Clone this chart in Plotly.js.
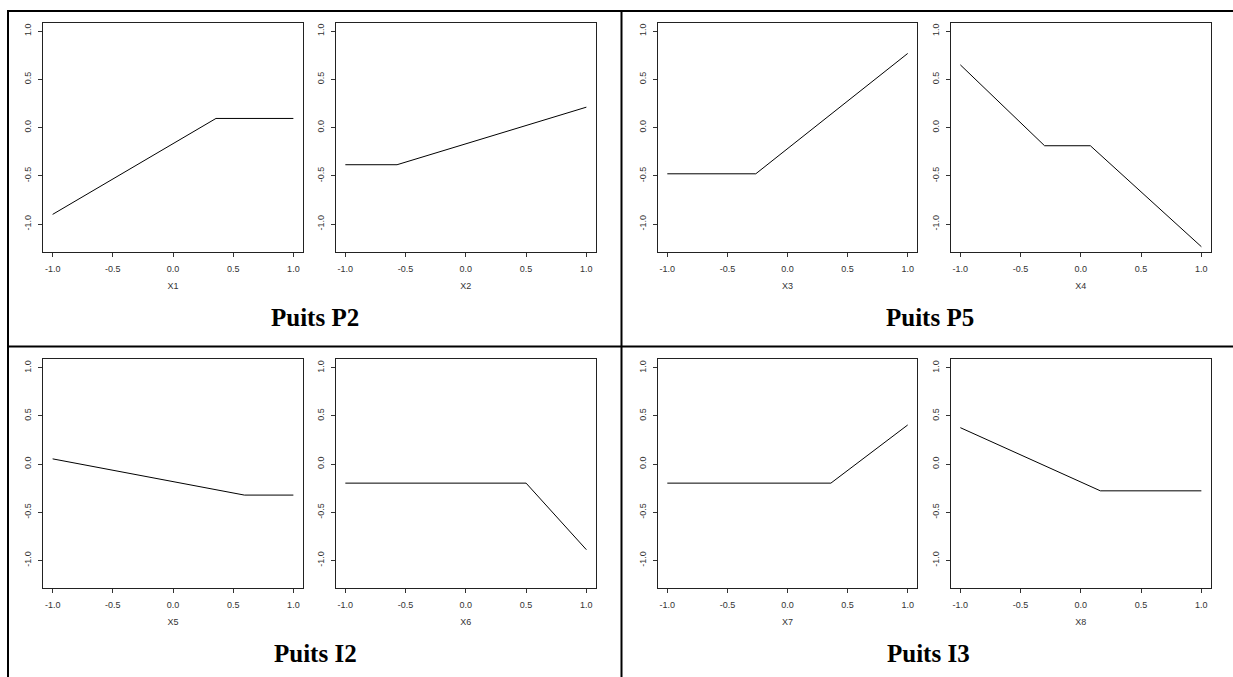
<!DOCTYPE html>
<html>
<head>
<meta charset="utf-8">
<script src="https://cdn.plot.ly/plotly-3.0.1.min.js"></script>
<style>html,body{margin:0;padding:0;background:#fff;}#chart{width:1233px;height:677px;}</style>
</head>
<body>
<div id="chart"></div>
<script>
// ---- data ----
const variableNames = ["X1", "X2", "X3", "X4", "X5", "X6", "X7", "X8"];
const x1Knots = [-1, 0.357, 1];            const x1Effect = [-0.90, 0.095, 0.095];
const x2Knots = [-1, -0.571, 1];           const x2Effect = [-0.385, -0.385, 0.212];
const x3Knots = [-1, -0.264, 1];           const x3Effect = [-0.479, -0.479, 0.769];
const x4Knots = [-1, -0.301, 0.079, 1];    const x4Effect = [0.651, -0.188, -0.188, -1.235];
const x5Knots = [-1, 0.593, 1];            const x5Effect = [0.054, -0.322, -0.322];
const x6Knots = [-1, 0.50, 1];             const x6Effect = [-0.198, -0.198, -0.889];
const x7Knots = [-1, 0.361, 1];            const x7Effect = [-0.198, -0.198, 0.406];
const x8Knots = [-1, 0.162, 1];            const x8Effect = [0.378, -0.278, -0.278];
const wellNames = ["Puits P2", "Puits P5", "Puits I2", "Puits I3"];
const xTickVals = [-1, -0.5, 0, 0.5, 1];
const xTickText = ["-1.0", "-0.5", "0.0", "0.5", "1.0"];
const yTickVals = [-1, -0.5, 0, 0.5, 1];
const yTickText = ["-1.0", "-0.5", "0.0", "0.5", "1.0"];

const knots = [x1Knots, x2Knots, x3Knots, x4Knots, x5Knots, x6Knots, x7Knots, x8Knots];
const effects = [x1Effect, x2Effect, x3Effect, x4Effect, x5Effect, x6Effect, x7Effect, x8Effect];

// ---- layout geometry (pixels) ----
const W = 1233, H = 677;
const px = v => v / W;
const py = v => 1 - v / H;
const colBoxes = [[43, 303], [335.7, 596], [657.7, 917.3], [950.7, 1211]];
const rowBoxes = [[22.7, 252], [359.3, 588.3]];

const data = [];
const layout = {
  width: W, height: H,
  margin: {l: 0, r: 0, t: 0, b: 0},
  paper_bgcolor: "#ffffff",
  plot_bgcolor: "#ffffff",
  showlegend: false,
  font: {family: "Liberation Sans, Arial, sans-serif", size: 9, color: "#333"},
  shapes: [],
  annotations: []
};

for (let i = 0; i < 8; i++) {
  const row = Math.floor(i / 4);
  const col = i % 4;
  const sfx = i === 0 ? "" : String(i + 1);
  data.push({
    x: knots[i], y: effects[i],
    type: "scatter", mode: "lines",
    line: {color: "#000", width: 1},
    xaxis: "x" + sfx, yaxis: "y" + sfx,
    hoverinfo: "skip"
  });
  const cb = colBoxes[col], rb = rowBoxes[row];
  layout["xaxis" + sfx] = {
    domain: [px(cb[0]), px(cb[1])],
    anchor: "y" + sfx,
    range: [-1.08, 1.08],
    tickmode: "array", tickvals: xTickVals, ticktext: xTickText,
    ticks: "outside", ticklen: 4, tickwidth: 1, tickcolor: "#333",
    ticklabelstandoff: 4,
    showline: true, mirror: true, linecolor: "#222", linewidth: 1,
    showgrid: false, zeroline: false,
    tickfont: {size: 9, color: "#333"},
    title: {text: variableNames[i], font: {size: 9, color: "#333"}, standoff: 9},
    automargin: false, fixedrange: true
  };
  layout["yaxis" + sfx] = {
    domain: [py(rb[1]), py(rb[0])],
    anchor: "x" + sfx,
    range: [-1.29, 1.088],
    tickmode: "array", tickvals: yTickVals, ticktext: yTickText,
    tickangle: -90,
    ticks: "outside", ticklen: 4, tickwidth: 1, tickcolor: "#333",
    ticklabelstandoff: 3,
    showline: true, mirror: true, linecolor: "#222", linewidth: 1,
    showgrid: false, zeroline: false,
    tickfont: {size: 9, color: "#333"},
    automargin: false, fixedrange: true
  };
}

// table borders
const border = (x0, y0, x1, y1) => ({
  type: "line", xref: "paper", yref: "paper",
  x0: px(x0), y0: py(y0), x1: px(x1), y1: py(y1),
  line: {color: "#000", width: 2}
});
layout.shapes.push(border(8, 11, 1233, 11));
layout.shapes.push(border(8, 10, 8, 677));
layout.shapes.push(border(621.5, 10, 621.5, 677));
layout.shapes.push(border(8, 346.5, 1233, 346.5));

// well titles
const titlePos = [[314.7, 317], [930, 317], [315.5, 653], [928, 653]];
for (let k = 0; k < 4; k++) {
  layout.annotations.push({
    text: "<b>" + wellNames[k] + "</b>",
    xref: "paper", yref: "paper",
    x: px(titlePos[k][0]), y: py(titlePos[k][1]),
    xanchor: "center", yanchor: "middle",
    showarrow: false,
    font: {family: "Liberation Serif, Times New Roman, serif", size: 25, color: "#000"}
  });
}

Plotly.newPlot("chart", data, layout, {displayModeBar: false, staticPlot: true});
</script>
</body>
</html>
